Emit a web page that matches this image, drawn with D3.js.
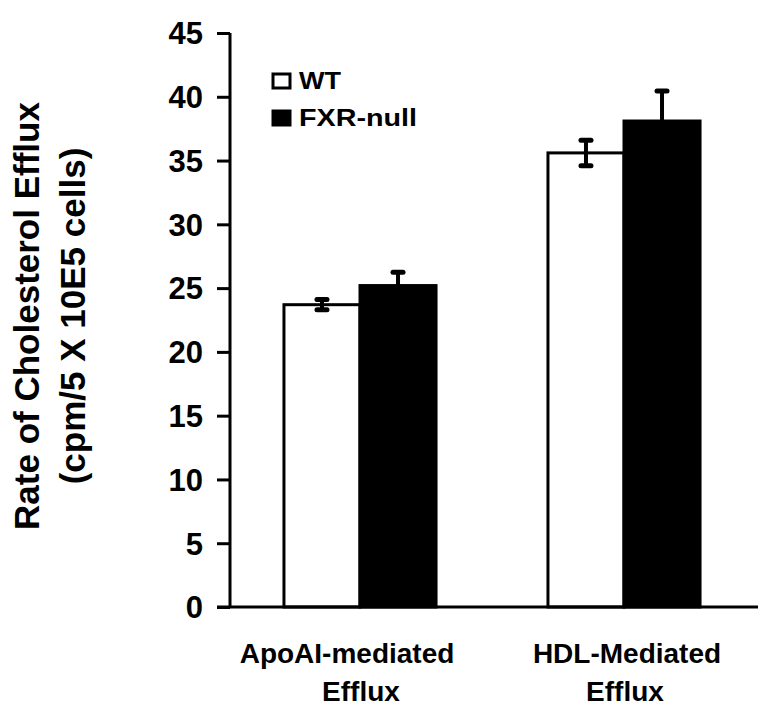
<!DOCTYPE html>
<html><head><meta charset="utf-8">
<script src="https://cdn.jsdelivr.net/npm/d3@7"></script>
<style>body{margin:0;background:#fff}svg{display:block}text{font-family:"Liberation Sans",Arial,sans-serif;font-weight:bold;fill:#000}</style>
</head><body><svg id="c" width="773" height="720"></svg>
<script>
const categories = [["ApoAI-mediated","Efflux"],["HDL-Mediated","Efflux"]];
const seriesNames = ["WT","FXR-null"];
const wtValues = [23.7, 35.6];
const fxrValues = [25.2, 38.1];
const wtErrors = [0.4, 1.0];
const fxrErrors = [1.05, 2.35];
const yTicks = [0,5,10,15,20,25,30,35,40,45];
const yTitle = ["Rate of Cholesterol Efflux","(cpm/5 X 10E5 cells)"];

const svg = d3.select("#c");
const y = d3.scaleLinear().domain([0,45]).range([607,33]);
const x0 = d3.scaleBand().domain([0,1]).range([228,756]).paddingInner(0.424).paddingOuter(0.212);
const x1 = d3.scaleBand().domain([0,1]).range([0,x0.bandwidth()]);
const fills = ["#fff","#000"];
const series = [
  {vals: wtValues, errs: wtErrors},
  {vals: fxrValues, errs: fxrErrors}
];

// bars
series.forEach((s,si)=>{
  const g = svg.append("g");
  g.selectAll("rect").data(s.vals).enter().append("rect")
    .attr("x",(d,i)=>x0(i)+x1(si))
    .attr("y",d=>y(d))
    .attr("width",x1.bandwidth())
    .attr("height",d=>y(0)-y(d))
    .attr("fill",fills[si]).attr("stroke","#000").attr("stroke-width",3);
});
// error bars
series.forEach((s,si)=>{
  s.vals.forEach((v,i)=>{
    const cx = x0(i)+x1(si)+x1.bandwidth()/2;
    const g = svg.append("g").attr("stroke","#000").attr("stroke-width",4).attr("stroke-linecap","round");
    g.append("line").attr("x1",cx).attr("x2",cx).attr("y1",y(v+s.errs[i])).attr("y2",y(v-s.errs[i]));
    [v+s.errs[i], v-s.errs[i]].forEach(e=>{
      g.append("line").attr("x1",cx-5).attr("x2",cx+5).attr("y1",y(e)).attr("y2",y(e)).attr("stroke-width",5);
    });
  });
});

// y axis
const ya = svg.append("g").attr("transform","translate(230,0)")
  .call(d3.axisLeft(y).tickValues(yTicks).tickSize(13).tickPadding(14));
ya.select(".domain").attr("stroke","#000").attr("stroke-width",3).attr("d","M0,"+y(45)+"V"+y(0));
ya.selectAll(".tick line").attr("stroke","#000").attr("stroke-width",3);
ya.selectAll(".tick text").attr("font-size",31).attr("font-family","Liberation Sans, Arial, sans-serif").attr("font-weight","bold").attr("fill","#000").attr("dy","0.35em");

// x axis line
svg.append("line").attr("x1",217).attr("x2",758).attr("y1",y(0)).attr("y2",y(0)).attr("stroke","#000").attr("stroke-width",3);

// category labels
const firstLineShift = [-13, 3];
categories.forEach((lines,i)=>{
  const cx = x0(i)+x0.bandwidth()/2;
  lines.forEach((t,li)=>{
    svg.append("text").attr("x",cx + (li===0?firstLineShift[i]:1)).attr("y",663+li*38).attr("text-anchor","middle").attr("font-size",28).text(t);
  });
});

// y title
yTitle.forEach((t,li)=>{
  svg.append("text").attr("transform",`translate(${39+li*46},316) rotate(-90)`).attr("text-anchor","middle").attr("font-size",35).text(t);
});

// legend
seriesNames.forEach((n,i)=>{
  const yy = 73 + i*37;
  svg.append("rect").attr("x",273).attr("y",yy+1).attr("width",17).attr("height",14).attr("fill",fills[i]).attr("stroke","#000").attr("stroke-width",3);
  svg.append("text").attr("x",299).attr("y",yy+16).attr("font-size",23)
    .attr("textLength", i===0?42:118).attr("lengthAdjust","spacingAndGlyphs").text(n);
});
</script></body></html>
